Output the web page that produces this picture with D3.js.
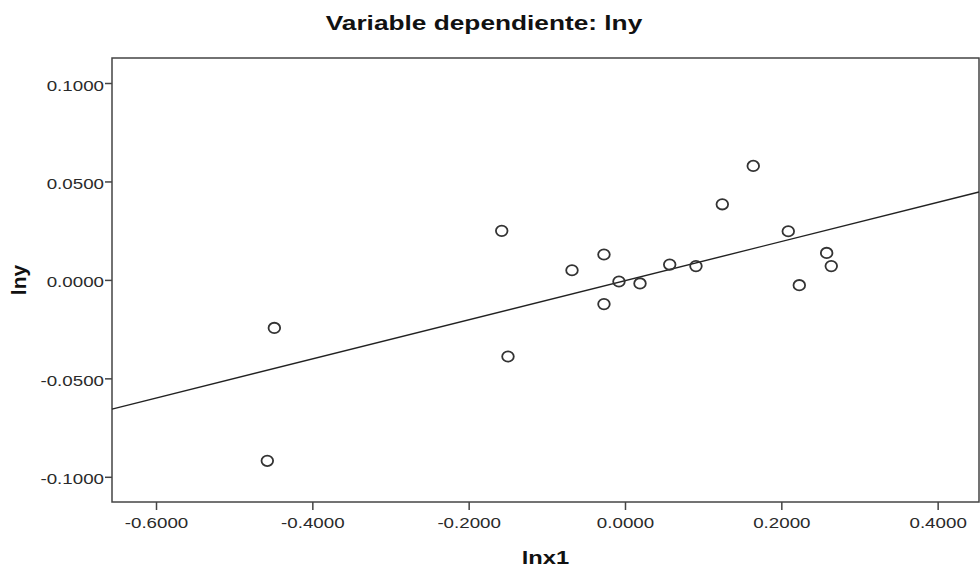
<!DOCTYPE html>
<html>
<head>
<meta charset="utf-8">
<script src="https://cdn.jsdelivr.net/npm/d3@7"></script>
<style>
  html, body { margin: 0; padding: 0; background: #fff; }
  svg { display: block; }
  text { font-family: "Liberation Sans", Arial, sans-serif; }
</style>
</head>
<body>
<svg id="chart" width="980" height="577"></svg>
<script>
// ---- data ----
const title = "Variable dependiente: lny";
const xLabel = "lnx1";
const yLabel = "lny";
const lnx1 = [-0.4576, -0.4486, -0.1577, -0.1497, -0.0678, -0.0269, -0.0269, -0.0077, 0.0192,
              0.0572, 0.0908, 0.1245, 0.1641, 0.2089, 0.2580, 0.2639, 0.2230];
const lny  = [-0.0919, -0.0244, 0.0249, -0.0389, 0.0049, 0.0129, -0.0123, -0.0008, -0.0018,
              0.0078, 0.0070, 0.0384, 0.0579, 0.0247, 0.0137, 0.0070, -0.0027];
const fitIntercept = -0.0004;
const fitSlope = 0.0994;
const xTicks = [-0.6, -0.4, -0.2, 0.0, 0.2, 0.4];
const yTicks = [-0.1, -0.05, 0.0, 0.05, 0.1];
const xDomain = [-0.6563, 0.4529];
const yDomain = [-0.1128, 0.1127];

// ---- layout ----
const svg = d3.select("#chart");
const M = { left: 112, right: 979, top: 58, bottom: 502 };
const sx = 1.25; // horizontal text stretch seen in the reference

const x = d3.scaleLinear().domain(xDomain).range([M.left, M.right]);
const y = d3.scaleLinear().domain(yDomain).range([M.bottom, M.top]);
const fmt = d3.formatLocale({ decimal: ".", thousands: ",", grouping: [3], currency: ["", ""], minus: "-" }).format(".4f");

// title
svg.append("text")
  .attr("transform", `translate(484,29.5) scale(${sx},1)`)
  .attr("text-anchor", "middle")
  .attr("font-size", 21).attr("font-weight", "bold").attr("fill", "#111")
  .text(title);

// axes
const xAxis = svg.append("g")
  .attr("transform", `translate(0,${M.bottom})`)
  .call(d3.axisBottom(x).tickValues(xTicks).tickFormat(fmt).tickSize(8).tickSizeOuter(0));
xAxis.select(".domain").remove();
xAxis.selectAll(".tick line").attr("stroke", "#444").attr("stroke-width", 1.5);
xAxis.selectAll(".tick text")
  .attr("y", 26).attr("dy", null)
  .attr("transform", `scale(${sx},1)`)
  .attr("font-size", 15).attr("fill", "#2a2a2a")
  .attr("font-family", "Liberation Sans, Arial, sans-serif");

const yAxis = svg.append("g")
  .attr("transform", `translate(${M.left},0)`)
  .call(d3.axisLeft(y).tickValues(yTicks).tickFormat(fmt).tickSize(7).tickSizeOuter(0));
yAxis.select(".domain").remove();
yAxis.selectAll(".tick line").attr("stroke", "#444").attr("stroke-width", 1.5);
yAxis.selectAll(".tick text")
  .attr("x", -8 / sx).attr("dy", 7)
  .attr("transform", `scale(${sx},1)`)
  .attr("font-size", 15).attr("fill", "#2a2a2a")
  .attr("font-family", "Liberation Sans, Arial, sans-serif");

// frame
svg.append("rect")
  .attr("x", M.left).attr("y", M.top)
  .attr("width", M.right - M.left).attr("height", M.bottom - M.top)
  .attr("fill", "none").attr("stroke", "#444").attr("stroke-width", 1.5);

// axis labels
svg.append("text")
  .attr("transform", `translate(${(M.left + M.right) / 2},564) scale(${sx},1)`)
  .attr("text-anchor", "middle")
  .attr("font-size", 19).attr("font-weight", "bold").attr("fill", "#111")
  .text(xLabel);

svg.append("text")
  .attr("transform", `translate(26,${(M.top + M.bottom) / 2}) rotate(-90)`)
  .attr("text-anchor", "middle")
  .attr("font-size", 21).attr("font-weight", "bold").attr("fill", "#111")
  .text(yLabel);

// regression line
const lineData = xDomain.map(v => [v, fitIntercept + fitSlope * v]);
svg.append("path")
  .datum(lineData)
  .attr("d", d3.line().x(d => x(d[0])).y(d => y(d[1])))
  .attr("fill", "none").attr("stroke", "#222").attr("stroke-width", 1.4);

// points
const pts = lnx1.map((v, i) => ({ x: v, y: lny[i] }));
svg.append("g").selectAll("ellipse")
  .data(pts).join("ellipse")
  .attr("cx", d => x(d.x)).attr("cy", d => y(d.y))
  .attr("rx", 5.8).attr("ry", 5.2)
  .attr("fill", "none").attr("stroke", "#333").attr("stroke-width", 1.8);
</script>
</body>
</html>
